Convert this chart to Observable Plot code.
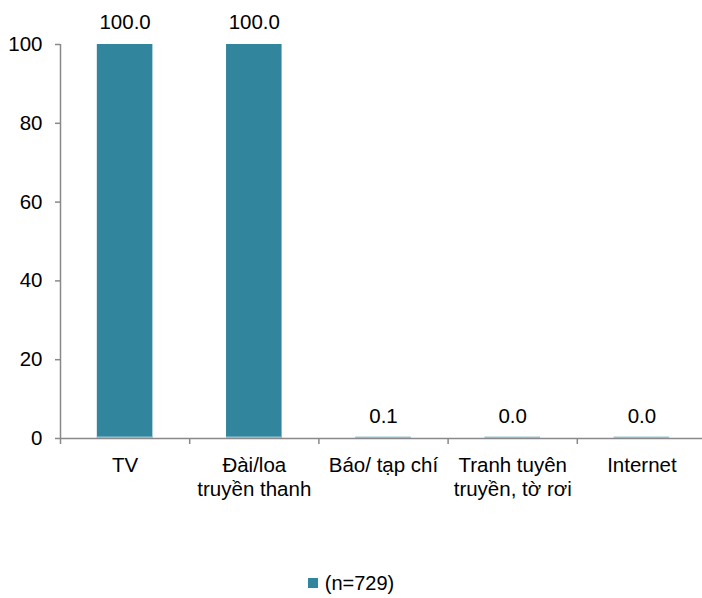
<!DOCTYPE html>
<html>
<head>
<meta charset="utf-8">
<script src="https://cdn.jsdelivr.net/npm/d3@7"></script>
<script src="https://cdn.jsdelivr.net/npm/@observablehq/plot@0.6"></script>
<style>
  html, body { margin: 0; padding: 0; background: #fff; }
  #chart { width: 702px; height: 598px; position: relative; font-family: "Liberation Sans", Arial, sans-serif; }
  .legend { position: absolute; top: 570px; left: 0; width: 702px; text-align: center; font-size: 20px; line-height: 26px; color: #000; }
  .legend .sw { display: inline-block; width: 10px; height: 10px; background: #31859C; margin-right: 7px; vertical-align: 2px; }
</style>
</head>
<body>
<div id="chart"></div>
<script>
const categories = ["TV", "Đài/loa\ntruyền thanh", "Báo/ tạp chí", "Tranh tuyên\ntruyền, tờ rơi", "Internet"];
const values = [100.0, 100.0, 0.1, 0.0, 0.0];
const valueLabels = ["100.0", "100.0", "0.1", "0.0", "0.0"];
const yTicks = [0, 20, 40, 60, 80, 100];
const seriesName = "(n=729)";
const barColor = "#31859C";
const axisColor = "#898989";
const fs = 20.5;

const data = categories.map((c, i) => {
  const parts = c.split("\n");
  return {i, c, l1: parts[0], l2: parts[1] || "", v: values[i], lab: valueLabels[i]};
});
const pad = 0.285;

const plot = Plot.plot({
  width: 702,
  height: 560,
  marginTop: 44,
  marginBottom: 122,
  marginLeft: 60,
  marginRight: 0,
  style: {fontFamily: "'Liberation Sans', Arial, sans-serif", fontSize: "20.5px", color: "#000", background: "transparent", overflow: "visible"},
  x: {domain: [0, categories.length], range: [60, 706]},
  y: {domain: [0, 100]},
  marks: [
    Plot.rectY(data, {x1: d => d.i + pad, x2: d => d.i + 1 - pad, y1: 0, y2: "v", fill: barColor}),
    Plot.ruleY(data, {x1: d => d.i + pad, x2: d => d.i + 1 - pad, y: 0, stroke: "#9DC8D8", strokeWidth: 2, dy: -1}),
    Plot.axisY({ticks: yTicks, tickSize: 5, tickPadding: 13, stroke: axisColor, strokeWidth: 1.5, fill: "#000", fontSize: fs, label: null, tickFormat: d => String(d)}),
    Plot.axisX({ticks: d3.range(categories.length + 1), tickSize: 6, stroke: axisColor, strokeWidth: 1.5, tickFormat: () => "", label: null}),
    Plot.ruleY([0], {stroke: axisColor, strokeWidth: 1.5}),
    Plot.ruleX([0], {y1: 0, y2: 100, stroke: axisColor, strokeWidth: 1.5}),
    Plot.text(data, {x: d => d.i + 0.5, y: "v", text: "lab", dy: -22, fontSize: fs, fill: "#000"}),
    Plot.text(data, {x: d => d.i + 0.5, y: 0, text: "l1", dy: 27, fontSize: fs, fill: "#000"}),
    Plot.text(data, {x: d => d.i + 0.5, y: 0, text: "l2", dy: 51, fontSize: fs, fill: "#000"})
  ]
});
const chart = document.getElementById("chart");
chart.appendChild(plot);
const leg = document.createElement("div");
leg.className = "legend";
leg.innerHTML = `<span class="sw"></span>${seriesName}`;
chart.appendChild(leg);
</script>
</body>
</html>
